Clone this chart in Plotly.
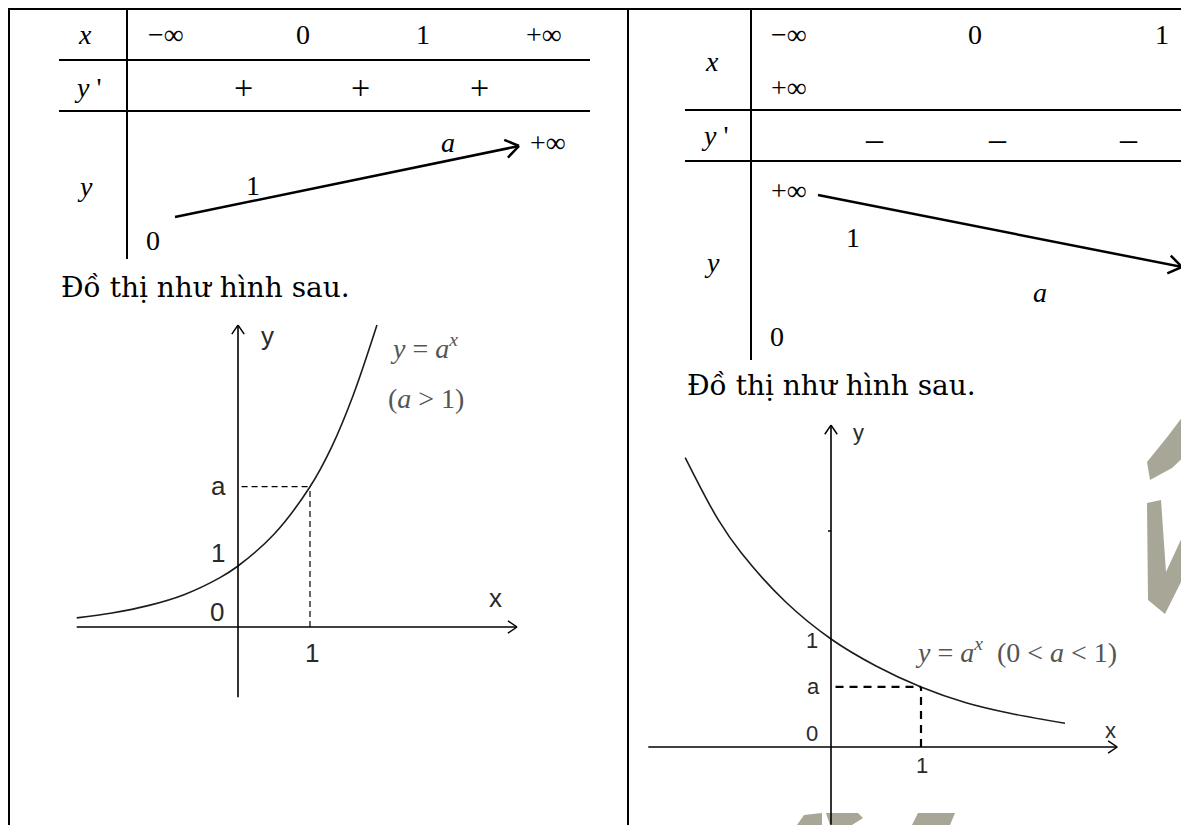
import math
import plotly.graph_objects as go

W, H = 1189, 825
OFF = 8                      # the page body adds an 8px margin around the figure
FW, FH = W - OFF, H - OFF    # figure size

# variation tables (text content)
left_x_row = ["−∞", "0", "1", "+∞"]
left_sign_row = ["+", "+", "+"]
left_y_row = ["0", "1", "<i>a</i>", "+∞"]
right_x_row = ["−∞", "0", "1", "+∞"]
right_sign_row = ["–", "–", "–"]
right_y_row = ["+∞", "1", "<i>a</i>", "0"]
caption = "Đồ thị như hình sau."

# curves (x, y in graph units)
inc_x = [-2.24, -1.75, -1.25, -0.75, -0.25, 0.0, 0.5, 1.0, 1.3, 1.6, 1.93]
inc_y = [0.15, 0.23, 0.35, 0.53, 0.81, 1.0, 1.52, 2.3, 2.95, 3.8, 4.95]
dec_x = [-1.62, -1.25, -1.0, -0.5, 0.0, 0.5, 1.0, 1.5, 2.0, 2.6]
dec_y = [2.68, 2.1, 1.8, 1.34, 1.0, 0.75, 0.556, 0.41, 0.31, 0.22]
inc_a = 2.3
dec_a = 0.556

fig = go.Figure()
shapes = []
annos = []
NB = "\u00a0"


def P(x, y):
    # page pixel -> paper fraction
    return (x - OFF) / FW, 1 - (y - OFF) / FH


def seg(x0, y0, x1, y1, w=1.5, color="black", dash=None):
    a, b = P(x0, y0)
    c, d = P(x1, y1)
    ln = dict(color=color, width=w)
    if dash:
        ln["dash"] = dash
    shapes.append(dict(type="line", xref="paper", yref="paper",
                       x0=a, y0=b, x1=c, y1=d, line=ln))


def chevron(tx, ty, fx, fy, length=13, spread=0.55, w=1.5):
    ang = math.atan2(fy - ty, fx - tx)
    for s in (-spread, spread):
        seg(tx, ty, tx + length * math.cos(ang + s), ty + length * math.sin(ang + s), w)


def txt(s, x, y, size=28, family="Liberation Serif", color="black", anchor="center"):
    a, b = P(x, y)
    annos.append(dict(text=s, x=a, y=b, xref="paper", yref="paper", showarrow=False,
                      xanchor=anchor, yanchor="middle",
                      font=dict(size=size, family=family, color=color)))


# page frame
seg(OFF, 9, W, 9, 2)
seg(OFF + 1, 9, OFF + 1, H, 2)
seg(628, 9, 628, H, 2)

# ---- left table ----
seg(127, 9, 127, 259, 2)
seg(59, 60, 590, 60, 2)
seg(59, 111, 590, 111, 2)
txt("<i>x</i>", 85, 35)
txt("<i>y</i> '", 87, 87)
txt("<i>y</i>", 85, 187)
for s, xx in zip(left_x_row, [166, 303, 423, 544]):
    txt(s, xx, 35)
for s, xx in zip(left_sign_row, [243, 360, 479]):
    txt(s, xx, 88, 34)
for s, (xx, yy) in zip(left_y_row, [(153, 240), (253, 185), (448, 142), (548, 142)]):
    txt(s, xx, yy)
seg(175, 217, 519, 146, 2.5)
chevron(519, 146, 175, 217, 16, 0.6, 2.5)
txt(caption, 59, 287, 28, "DejaVu Serif", anchor="left")

# ---- right table ----
seg(751, 9, 751, 360, 2)
seg(685, 110, W, 110, 2)
seg(685, 161, W, 161, 2)
txt("<i>x</i>", 712, 62)
txt("<i>y</i> '", 714, 136)
txt("<i>y</i>", 712, 262)
for s, (xx, yy) in zip(right_x_row, [(789, 35), (975, 35), (1162, 35), (789, 88)]):
    txt(s, xx, yy)
for s, xx in zip(right_sign_row, [874, 997, 1128]):
    txt(s, xx, 138, 34)
for s, (xx, yy) in zip(right_y_row, [(789, 190), (853, 237), (1040, 293), (777, 337)]):
    txt(s, xx, yy)
seg(818, 195, 1182, 267, 2.5)
chevron(1182, 267, 818, 195, 16, 0.6, 2.5)
txt(caption, 685, 385, 28, "DejaVu Serif", anchor="left")

# ---- graphs ----
graphs = {
    "2": dict(o=(238, 627), s=(72, 61), box=(40, 300, 560, 720),
              xa=(-2.24, 3.875), ya=(-1.15, 4.95)),
    "3": dict(o=(831, 747), s=(90, 108), box=(635, 400, 1189, 825),
              xa=(-2.03, 3.18), ya=(-0.72, 2.98)),
}


def g2p(g, x, y):
    (ox, oy), (sx, sy) = g["o"], g["s"]
    return ox + x * sx, oy - y * sy


for k, g in graphs.items():
    (ox, oy), (sx, sy) = g["o"], g["s"]
    x0, y0, x1, y1 = g["box"]
    fig.layout["xaxis" + k] = dict(range=[(x0 - ox) / sx, (x1 - ox) / sx],
                                   domain=[(x0 - OFF) / FW, (x1 - OFF) / FW],
                                   visible=False, anchor="y" + k)
    fig.layout["yaxis" + k] = dict(range=[(oy - y1) / sy, (oy - y0) / sy],
                                   domain=[1 - (y1 - OFF) / FH, 1 - (y0 - OFF) / FH],
                                   visible=False, anchor="x" + k)
    # axes lines in graph units
    shapes.append(dict(type="line", xref="x" + k, yref="y" + k, x0=g["xa"][0], x1=g["xa"][1],
                       y0=0, y1=0, line=dict(color="black", width=1.6)))
    shapes.append(dict(type="line", xref="x" + k, yref="y" + k, x0=0, x1=0,
                       y0=g["ya"][0], y1=g["ya"][1], line=dict(color="black", width=1.6)))
    tx, ty = g2p(g, g["xa"][1], 0)
    chevron(tx, ty, tx - 20, ty, 11, 0.6, 1.5)
    tx, ty = g2p(g, 0, g["ya"][1])
    chevron(tx, ty, tx, ty + 20, 11, 0.6, 1.5)

fig.add_trace(go.Scatter(x=inc_x, y=inc_y, mode="lines", xaxis="x2", yaxis="y2",
                         line=dict(color="#1c1c1c", width=1.6, shape="spline"), hoverinfo="skip"))
fig.add_trace(go.Scatter(x=dec_x, y=dec_y, mode="lines", xaxis="x3", yaxis="y3",
                         line=dict(color="#1c1c1c", width=1.6, shape="spline"), hoverinfo="skip"))

for k, a, w, dash in (("2", inc_a, 1.2, "6px,4px"), ("3", dec_a, 2.2, "8px,6px")):
    shapes.append(dict(type="line", xref="x" + k, yref="y" + k, x0=0.05, x1=1, y0=a, y1=a,
                       line=dict(color="black", width=w, dash=dash)))
    shapes.append(dict(type="line", xref="x" + k, yref="y" + k, x0=1, x1=1, y0=0, y1=a,
                       line=dict(color="black", width=w, dash=dash)))

# small tick on the right y axis
tx, ty = g2p(graphs["3"], 0, 2)
seg(tx - 3, ty, tx, ty, 1.5)

# graph labels
sans = "Liberation Sans"
gc = "#2a2a2a"
mc = "#555555"
txt("y", 267, 336, 26, sans, gc)
txt("x", 495, 598, 26, sans, gc)
txt("a", 218, 486, 26, sans, gc)
txt("1", 218, 553, 26, sans, gc)
txt("0", 217, 612, 26, sans, gc)
txt("1", 312, 653, 26, sans, gc)
txt(f"<i>y</i>{NB}={NB}<i>a</i><sup><i>x</i></sup>", 388, 346, 28, "Liberation Serif", mc, "left")
txt(f"(<i>a</i>{NB}>{NB}1)", 386, 398, 28, "Liberation Serif", mc, "left")

txt("y", 858, 432, 22, sans, gc)
txt("x", 1110, 730, 22, sans, gc)
txt("1", 812, 640, 22, sans, gc)
txt("a", 813, 686, 22, sans, gc)
txt("0", 812, 733, 22, sans, gc)
txt("1", 922, 765, 22, sans, gc)
txt(f"<i>y</i>{NB}={NB}<i>a</i><sup><i>x</i></sup>{NB}{NB}(0{NB}&lt;{NB}<i>a</i>{NB}&lt;{NB}1)",
    913, 650, 28, "Liberation Serif", mc, "left")

# watermark fragments
wm = "#a7a697"
for poly in (
    [(1147, 462), (1168, 436), (1189, 408), (1189, 452), (1172, 468), (1150, 480)],
    [(1147, 503), (1161, 500), (1166, 572), (1189, 522), (1189, 566), (1165, 614), (1148, 600)],
    [(797, 825), (804, 815), (822, 813), (822, 825)],
    [(826, 813), (858, 813), (863, 818), (852, 825), (830, 825)],
    [(918, 813), (955, 813), (950, 825), (912, 825)],
):
    path = "M " + " L ".join("{},{}".format(*P(x, y)) for x, y in poly) + " Z"
    shapes.append(dict(type="path", xref="paper", yref="paper", path=path,
                       fillcolor=wm, line=dict(width=0), layer="below"))

fig.update_layout(width=FW, height=FH, margin=dict(l=0, r=0, t=0, b=0),
                  paper_bgcolor="white", plot_bgcolor="white", showlegend=False,
                  xaxis=dict(visible=False), yaxis=dict(visible=False),
                  shapes=shapes, annotations=annos)
fig.write_html("out.html")
